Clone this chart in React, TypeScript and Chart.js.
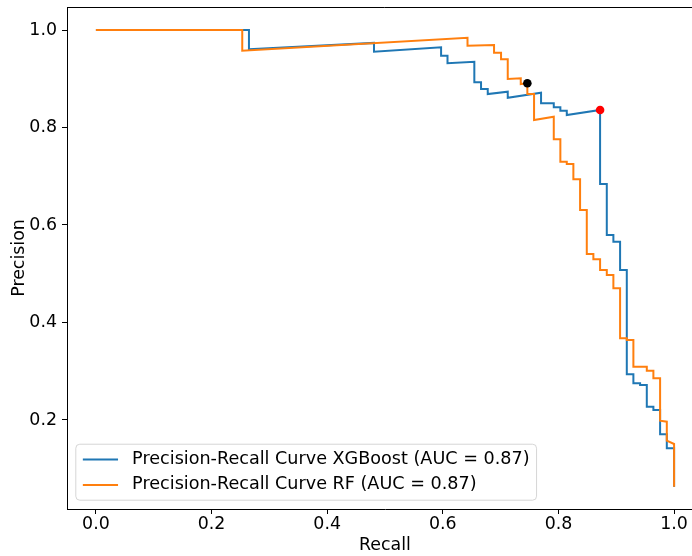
import React, { useEffect, useRef } from "react";
import { Chart, registerables } from "chart.js";

Chart.register(...registerables);

// ---- Data ----
const xgbRecall = [
  0, 0.2647, 0.2647, 0.481, 0.481, 0.597, 0.597, 0.6081, 0.6081, 0.6545, 0.6545,
  0.6661, 0.6661, 0.6777, 0.6777, 0.7123, 0.7123, 0.7699, 0.7699, 0.7919, 0.7919,
  0.8033, 0.8033, 0.8144, 0.8144, 0.872, 0.872, 0.8836, 0.8836, 0.895, 0.895,
  0.9066, 0.9066, 0.9182, 0.9182, 0.9296, 0.9296, 0.9412, 0.9412, 0.9528, 0.9528,
  0.9642, 0.9642, 0.9758, 0.9758, 0.9874, 0.9874, 1.0, 1.0,
];
const xgbPrecision = [
  1.0, 1.0, 0.9604, 0.9735, 0.9555, 0.9645, 0.9473, 0.9473, 0.9317, 0.935, 0.8927,
  0.8927, 0.879, 0.879, 0.8687, 0.8734, 0.8611, 0.8714, 0.8496, 0.8496, 0.8414,
  0.8414, 0.8345, 0.8345, 0.8256, 0.8359, 0.6841, 0.6841, 0.5795, 0.5795, 0.5657,
  0.5657, 0.5077, 0.5077, 0.2937, 0.2937, 0.2753, 0.2753, 0.2718, 0.2718, 0.2273,
  0.2273, 0.2205, 0.2205, 0.1706, 0.1706, 0.142, 0.142, 0.0632,
];
const rfRecall = [
  0, 0.2531, 0.2531, 0.6427, 0.6427, 0.6886, 0.6886, 0.7007, 0.7007, 0.7123, 0.7123,
  0.7348, 0.7348, 0.7462, 0.7462, 0.7578, 0.7578, 0.7919, 0.7919, 0.8033, 0.8033,
  0.8144, 0.8144, 0.8258, 0.8258, 0.8374, 0.8374, 0.849, 0.849, 0.8604, 0.8604,
  0.872, 0.872, 0.8836, 0.8836, 0.895, 0.895, 0.9066, 0.9066, 0.9182, 0.9182,
  0.9296, 0.9296, 0.9412, 0.9528, 0.9528, 0.9642, 0.9642, 0.9758, 0.9758, 0.9874,
  0.9874, 1.0, 1.0,
];
const rfPrecision = [
  1.0, 1.0, 0.9575, 0.9842, 0.9678, 0.9692, 0.9534, 0.9534, 0.9399, 0.9399, 0.8995,
  0.9009, 0.8892, 0.8907, 0.8687, 0.8687, 0.8154, 0.8222, 0.7758, 0.7758, 0.7298,
  0.7298, 0.7251, 0.7251, 0.6937, 0.6937, 0.6308, 0.6308, 0.5405, 0.5405, 0.5296,
  0.5296, 0.5077, 0.5077, 0.4974, 0.4974, 0.4702, 0.4702, 0.3676, 0.3676, 0.3641,
  0.3641, 0.3094, 0.3094, 0.3094, 0.3011, 0.3011, 0.2855, 0.2855, 0.1986, 0.1965,
  0.1576, 0.1508, 0.0632,
];
const xgbBestPoint = [0.872, 0.8359];
const rfBestPoint = [0.7462, 0.8907];
const seriesLabels = [
  "Precision-Recall Curve XGBoost (AUC = 0.87)",
  "Precision-Recall Curve RF (AUC = 0.87)",
];
const xTicks = [0.0, 0.2, 0.4, 0.6, 0.8, 1.0];
const yTicks = [0.2, 0.4, 0.6, 0.8, 1.0];
const xLimits = [-0.05, 1.05];
const yLimits = [0.0174, 1.0472];

// ---- Styling ----
const FS = 17.4;
const LEGEND_FS = 17.6;
const FAMILY = '"DejaVu Sans", sans-serif';
const BLUE = "#1f77b4";
const ORANGE = "#ff7f0e";
const CW = 712;
const CH = 556;

const toPoints = (xs: number[], ys: number[]) => xs.map((x, i) => ({ x, y: ys[i] }));

const framePlugin = {
  id: "mplFrame",
  afterDraw(chart: any) {
    const { ctx, chartArea } = chart;
    ctx.save();
    ctx.strokeStyle = "#000";
    ctx.lineWidth = 1;
    const t = Math.round(chartArea.top) + 0.5;
    const r = Math.round(chartArea.right) - 0.5;
    ctx.beginPath();
    ctx.moveTo(chartArea.left, t);
    ctx.lineTo(r, t);
    ctx.lineTo(r, chartArea.bottom);
    ctx.stroke();
    ctx.restore();
  },
};

const legendPlugin = {
  id: "mplLegend",
  afterDraw(chart: any) {
    const { ctx, chartArea } = chart;
    const items = chart.data.datasets.filter((d: any) => d.inLegend);
    items.sort((a: any, b: any) => a.legendIndex - b.legendIndex);
    const fs = LEGEND_FS;
    ctx.save();
    ctx.font = `${fs}px ${FAMILY}`;
    const textH = 0.94 * fs;
    const pad = 0.4 * fs;
    const spacing = 0.5 * fs;
    const handle = 2 * fs;
    const handlePad = 0.8 * fs;
    let maxW = 0;
    items.forEach((d: any) => {
      maxW = Math.max(maxW, ctx.measureText(d.label).width);
    });
    const w = pad * 2 + handle + handlePad + maxW;
    const h = pad * 2 + items.length * textH + (items.length - 1) * spacing;
    const left = chartArea.left + 0.5 * fs;
    const top = chartArea.bottom - 0.5 * fs - h;
    ctx.beginPath();
    if ((ctx as any).roundRect) (ctx as any).roundRect(left, top, w, h, 4);
    else ctx.rect(left, top, w, h);
    ctx.fillStyle = "rgba(255,255,255,0.8)";
    ctx.fill();
    ctx.strokeStyle = "rgba(204,204,204,0.8)";
    ctx.lineWidth = 1;
    ctx.stroke();
    items.forEach((d: any, i: number) => {
      const cy = top + pad + textH / 2 + i * (textH + spacing);
      ctx.beginPath();
      ctx.strokeStyle = d.borderColor;
      ctx.lineWidth = d.borderWidth;
      ctx.moveTo(left + pad, cy);
      ctx.lineTo(left + pad + handle, cy);
      ctx.stroke();
      ctx.fillStyle = "#000";
      ctx.textBaseline = "middle";
      ctx.textAlign = "left";
      ctx.fillText(d.label, left + pad + handle + handlePad, cy);
    });
    ctx.restore();
  },
};

export default function App() {
  const ref = useRef<HTMLCanvasElement>(null);
  useEffect(() => {
    const canvas = ref.current;
    if (!canvas) return;
    const font = { family: FAMILY, size: FS };
    const chart = new Chart(canvas, {
      type: "scatter",
      data: {
        datasets: [
          {
            label: "RF best threshold",
            data: [{ x: rfBestPoint[0], y: rfBestPoint[1] }],
            backgroundColor: "#000",
            borderColor: "#000",
            pointRadius: 4.3,
            borderWidth: 0,
            order: 0,
          },
          {
            label: "XGBoost best threshold",
            data: [{ x: xgbBestPoint[0], y: xgbBestPoint[1] }],
            backgroundColor: "#ff0000",
            borderColor: "#ff0000",
            pointRadius: 4.3,
            borderWidth: 0,
            order: 1,
          },
          {
            label: seriesLabels[1],
            data: toPoints(rfRecall, rfPrecision),
            showLine: true,
            borderColor: ORANGE,
            backgroundColor: ORANGE,
            borderWidth: 2,
            pointRadius: 0,
            tension: 0,
            order: 2,
            inLegend: true,
            legendIndex: 1,
          } as any,
          {
            label: seriesLabels[0],
            data: toPoints(xgbRecall, xgbPrecision),
            showLine: true,
            borderColor: BLUE,
            backgroundColor: BLUE,
            borderWidth: 2,
            pointRadius: 0,
            tension: 0,
            order: 3,
            inLegend: true,
            legendIndex: 0,
          } as any,
        ],
      },
      options: {
        animation: false,
        responsive: false,
        devicePixelRatio: 1,
        layout: { padding: { left: 0, top: 7, right: CW - 703, bottom: 0 } },
        plugins: { legend: { display: false }, tooltip: { enabled: false } },
        scales: {
          x: {
            type: "linear",
            position: "bottom",
            min: xLimits[0],
            max: xLimits[1],
            afterBuildTicks: (s: any) => {
              s.ticks = xTicks.map((v) => ({ value: v }));
            },
            afterFit: (s: any) => {
              s.height = 47;
              s.paddingLeft = 0;
              s.paddingRight = 0;
            },
            ticks: {
              callback: (v: any) => Number(v).toFixed(1),
              font,
              color: "#000",
              padding: 0,
              maxRotation: 0,
              autoSkip: false,
            },
            grid: {
              drawOnChartArea: false,
              drawTicks: true,
              tickLength: 5,
              tickColor: "#000",
              tickWidth: 1,
            },
            border: { display: true, color: "#000", width: 1 },
            title: {
              display: true,
              text: "Recall",
              font,
              color: "#000",
              padding: { top: 0, bottom: 0 },
            },
          },
          y: {
            type: "linear",
            position: "left",
            min: yLimits[0],
            max: yLimits[1],
            afterBuildTicks: (s: any) => {
              s.ticks = yTicks.map((v) => ({ value: v }));
            },
            afterFit: (s: any) => {
              s.width = 67;
              s.paddingTop = 0;
              s.paddingBottom = 0;
            },
            ticks: {
              callback: (v: any) => Number(v).toFixed(1),
              font,
              color: "#000",
              padding: 5,
              autoSkip: false,
            },
            grid: {
              drawOnChartArea: false,
              drawTicks: true,
              tickLength: 5,
              tickColor: "#000",
              tickWidth: 1,
            },
            border: { display: true, color: "#000", width: 1 },
            title: {
              display: true,
              text: "Precision",
              font,
              color: "#000",
              padding: { top: 9, bottom: 0 },
            },
          },
        },
      } as any,
      plugins: [framePlugin, legendPlugin],
    });
    return () => chart.destroy();
  }, []);

  return (
    <div
      style={{
        position: "fixed",
        left: 0,
        top: 0,
        width: 692,
        height: 556,
        overflow: "hidden",
        background: "#fff",
      }}
    >
      <canvas
        ref={ref}
        width={CW}
        height={CH}
        style={{ position: "absolute", left: 0, top: 0, width: CW, height: CH }}
      />
    </div>
  );
}
